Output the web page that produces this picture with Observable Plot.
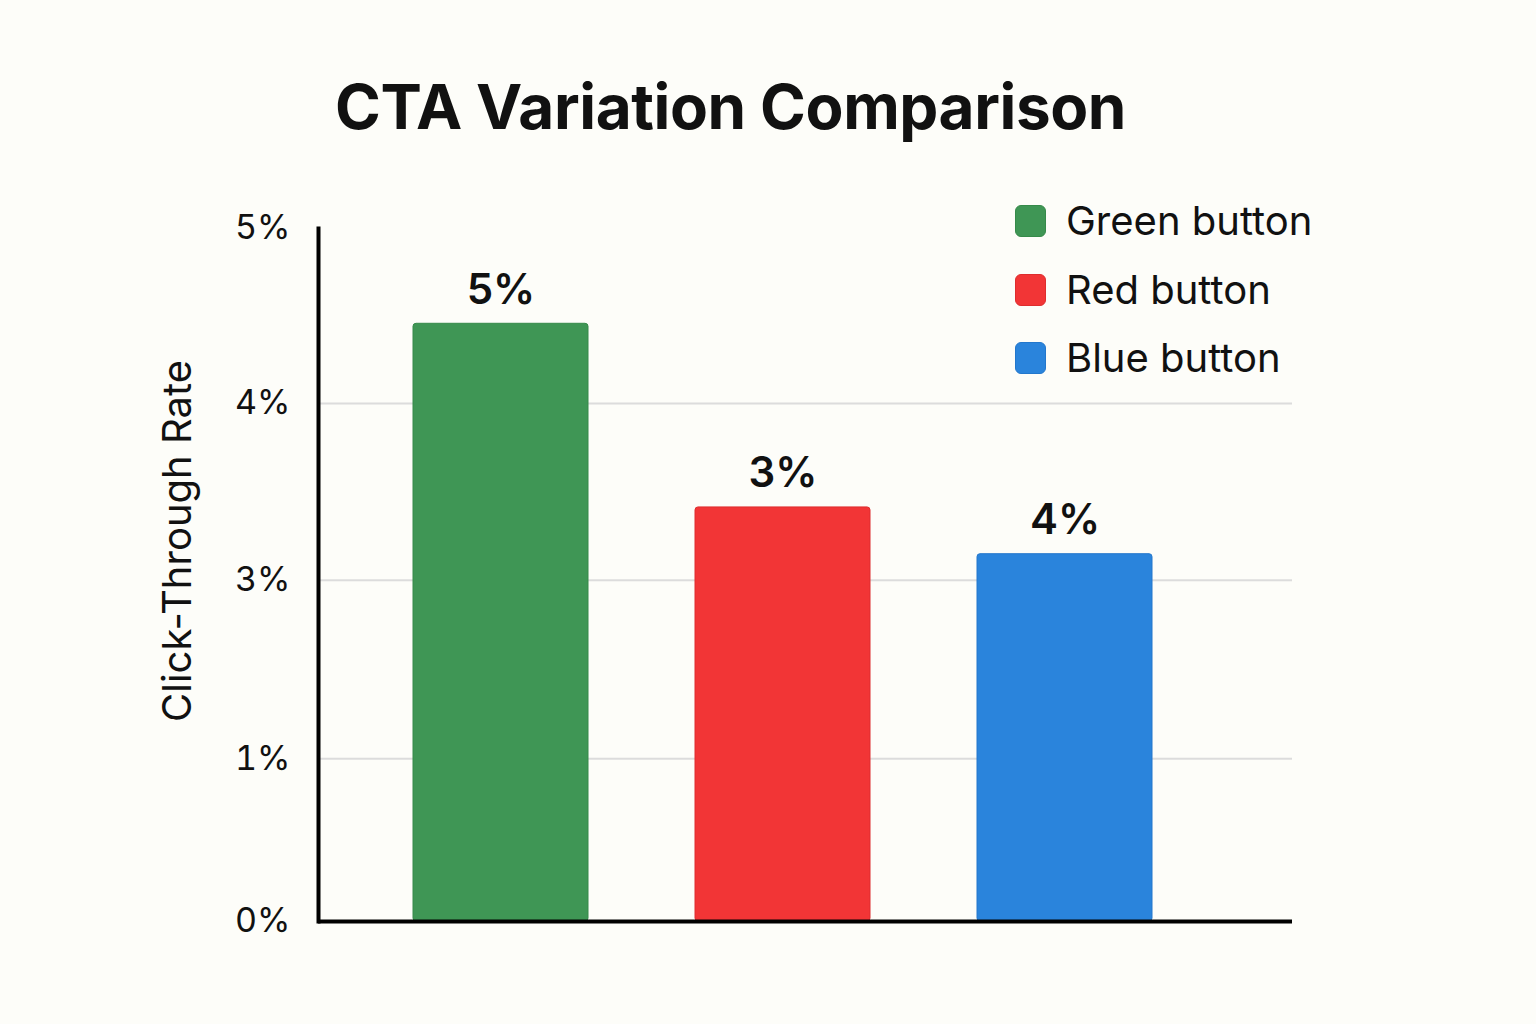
<!DOCTYPE html>
<html>
<head>
<meta charset="utf-8">
<script src="https://cdn.jsdelivr.net/npm/d3@7"></script>
<script src="https://cdn.jsdelivr.net/npm/@observablehq/plot@0.6"></script>
<style>
  html, body { margin: 0; padding: 0; background: #fdfdf9; }
  body { width: 1536px; height: 1024px; overflow: hidden; font-family: Inter, "Noto Sans", sans-serif; color: #111; }
  #wrap { position: relative; width: 1536px; height: 1024px; }
  #header { position: relative; height: 160px; }
  #title { position: absolute; left: 335px; top: 76px; font-size: 62px; font-weight: 700; line-height: 1; letter-spacing: -0.4px; color: #111; white-space: nowrap; }
  #legend { position: absolute; left: 1015px; top: 187px; }
  .row { display: flex; align-items: center; height: 68.5px; }
  .sw { width: 31px; height: 32px; border-radius: 6px; margin-right: 20px; box-sizing: border-box; }
  .lab { font-size: 40px; line-height: 1; color: #111; }
  svg { display: block; }
</style>
</head>
<body>
<div id="wrap">
  <div id="header"><div id="title"></div></div>
  <div id="chart"></div>
  <div id="legend"></div>
</div>
<script>
const title = "CTA Variation Comparison";
const yLabel = "Click-Through Rate";
const names = ["Green button", "Red button", "Blue button"];
// bar heights in axis units
const values = [3.45, 2.39, 2.12];
const barLabels = ["5%", "3%", "4%"];
const colors = ["#3f9655", "#f23536", "#2a84dc"];
const strokes = ["#368a4a", "#de2d2e", "#2377cc"];
// tick positions in axis units and their labels
const tickValues = [0, 0.94, 1.97, 2.99, 4];
const tickLabels = ["0%", "1%", "3%", "4%", "5%"];
const gridValues = [0.94, 1.97, 2.99];

document.getElementById("title").textContent = title;

const data = names.map((n, i) => ({name: n, value: values[i], label: barLabels[i]}));

const chart = Plot.plot({
  width: 1536,
  height: 864,
  marginLeft: 318,
  marginRight: 244,
  marginTop: 68,
  marginBottom: 103,
  style: {background: "transparent", fontFamily: "Inter, 'Noto Sans', sans-serif", color: "#111"},
  x: {domain: names, range: [318, 1247], paddingInner: 0.38, paddingOuter: 0.337, axis: null},
  y: {domain: [0, 4]},
  color: {domain: names, range: colors},
  marks: [
    Plot.gridY(gridValues, {stroke: "#dcdcdc", strokeOpacity: 1, strokeWidth: 2}),
    Plot.barY(data, {x: "name", y: "value", fill: "name", stroke: (d) => strokes[names.indexOf(d.name)], strokeWidth: 1, rx: 3}),
    Plot.text(data, {x: "name", y: "value", text: "label", dy: -20, lineAnchor: "bottom", fontSize: 42, fontWeight: 600, fill: "#111"}),
    Plot.axisY(tickValues, {tickSize: 0, tickPadding: 28, tickFormat: (d) => tickLabels[tickValues.indexOf(d)], fontSize: 34, label: null, fill: "#111"}),
    Plot.text([yLabel], {frameAnchor: "left", textAnchor: "middle", rotate: -90, dx: -140, dy: -34, fontSize: 40, fill: "#111"}),
    Plot.frame({anchor: "left", stroke: "#000", strokeWidth: 4}),
    Plot.ruleY([0], {stroke: "#000", strokeWidth: 4})
  ]
});
document.getElementById("chart").appendChild(chart);

const legend = document.getElementById("legend");
names.forEach((n, i) => {
  const row = document.createElement("div");
  row.className = "row";
  const sw = document.createElement("div");
  sw.className = "sw";
  sw.style.background = colors[i];
  sw.style.border = "1px solid " + strokes[i];
  const lab = document.createElement("div");
  lab.className = "lab";
  lab.textContent = n;
  row.appendChild(sw);
  row.appendChild(lab);
  legend.appendChild(row);
});
</script>
</body>
</html>
